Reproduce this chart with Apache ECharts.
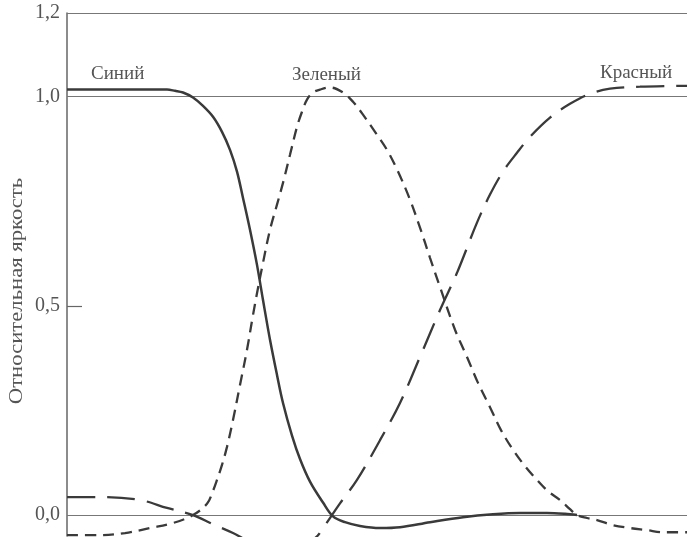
<!DOCTYPE html>
<html>
<head>
<meta charset="utf-8">
<script src="https://cdn.jsdelivr.net/npm/echarts@6/dist/echarts.min.js"></script>
<style>
html,body{margin:0;padding:0;background:#fff;}
#chart{width:687px;height:537px;}
</style>
</head>
<body>
<div id="chart"></div>
<script>
// x: arbitrary horizontal units (the source figure shows no x labels)
const blueX = [0,83,100,108,116,126,136,146,155,163,170,176,183,190,196,203,210,216,225,233,243,256,266,278,293,313,333,363,396,426,453,480,498,510];
const blueY = [1.017,1.017,1.017,1.014,1.010,0.998,0.978,0.952,0.916,0.873,0.821,0.758,0.682,0.598,0.514,0.419,0.335,0.268,0.190,0.134,0.080,0.030,-0.003,-0.017,-0.026,-0.031,-0.029,-0.017,-0.005,0.002,0.005,0.005,0.003,0.0];

const greenX = [0,33,58,83,106,126,140,146,150,155,160,166,173,180,186,190,196,203,210,216,223,230,235,240,246,253,263,276,286,296,308,320,331,343,353,363,373,388,400,411,423,434,446,458,470,481,493,503,510,520,530,546,563,580,596,620];
const greenY = [-0.048,-0.048,-0.043,-0.031,-0.019,0.0,0.027,0.058,0.084,0.120,0.163,0.227,0.311,0.395,0.478,0.530,0.603,0.682,0.742,0.794,0.861,0.928,0.964,0.993,1.010,1.017,1.022,1.010,0.988,0.957,0.916,0.873,0.821,0.754,0.687,0.615,0.545,0.443,0.378,0.316,0.258,0.203,0.156,0.117,0.084,0.057,0.036,0.014,0.0,-0.007,-0.012,-0.024,-0.031,-0.036,-0.041,-0.041];

const redX = [0,33,73,100,126,146,166,193,223,248,256,265,273,290,313,333,353,373,390,410,423,436,450,463,483,503,523,543,573,620];
const redY = [0.043,0.043,0.036,0.017,0.0,-0.022,-0.043,-0.075,-0.085,-0.055,-0.031,0.0,0.028,0.084,0.179,0.268,0.378,0.490,0.579,0.699,0.766,0.821,0.866,0.904,0.950,0.983,1.007,1.019,1.024,1.026];

const seriesNames = ['Синий','Зеленый','Красный'];
const tickValues = [0, 0.5, 1.0, 1.2];
const tickLabels = ['0,0','0,5','1,0','1,2'];
const refLines = [0, 1.0, 1.2];
const yTitle = 'Относительная яркость';

const pairs = (xs, ys) => xs.map((x, i) => [x, ys[i]]);
const ink = '#3a3a3a';
const textCol = '#555';
const serif = '"Liberation Serif", "DejaVu Serif", serif';

const chart = echarts.init(document.getElementById('chart'));
chart.setOption({
  animation: false,
  backgroundColor: '#fff',
  grid: { left: 67, right: 0, top: 13, bottom: 1, containLabel: false },
  xAxis: { type: 'value', min: 0, max: 620, show: false },
  yAxis: {
    type: 'value', min: -0.05, max: 1.2, interval: 0.05,
    axisLine: { show: true, lineStyle: { color: '#666', width: 1.5 } },
    axisTick: { show: true, inside: true, length: 15, customValues: [0.5], lineStyle: { color: '#666', width: 1.2 } },
    splitLine: { show: false },
    axisLabel: {
      customValues: tickValues,
      margin: 7,
      fontFamily: serif, fontSize: 20, color: textCol,
      formatter: function (v) {
        for (let i = 0; i < tickValues.length; i++) {
          if (Math.abs(v - tickValues[i]) < 1e-6) return tickLabels[i];
        }
        return '';
      }
    }
  },
  series: [
    {
      name: seriesNames[0], type: 'line', data: pairs(blueX, blueY),
      smooth: 0.35, showSymbol: false, symbol: 'none',
      lineStyle: { color: ink, width: 2.5, type: 'solid' },
      z: 5,
      markLine: {
        silent: true, symbol: 'none', label: { show: false },
        lineStyle: { color: '#777', width: 1.2, type: 'solid' },
        data: refLines.map(v => ({ yAxis: v }))
      }
    },
    {
      name: seriesNames[1], type: 'line', data: pairs(greenX, greenY),
      smooth: 0.35, showSymbol: false, symbol: 'none',
      lineStyle: { color: ink, width: 2.3, type: [11, 7] },
      z: 5
    },
    {
      name: seriesNames[2], type: 'line', data: pairs(redX, redY),
      smooth: 0.35, showSymbol: false, symbol: 'none',
      lineStyle: { color: ink, width: 2.3, type: [28, 12] },
      z: 5
    }
  ],
  graphic: [
    { type: 'text', x: 17, y: 291, rotation: Math.PI / 2, scaleX: 1.26,
      style: { text: yTitle, font: '18px ' + serif, fill: textCol, align: 'center', verticalAlign: 'middle' } },
    { type: 'text', x: 91, y: 74, style: { text: seriesNames[0], font: '19px ' + serif, fill: textCol, verticalAlign: 'middle' } },
    { type: 'text', x: 292, y: 75, style: { text: seriesNames[1], font: '19px ' + serif, fill: textCol, verticalAlign: 'middle' } },
    { type: 'text', x: 600, y: 73, style: { text: seriesNames[2], font: '19px ' + serif, fill: textCol, verticalAlign: 'middle' } }
  ]
});
</script>
</body>
</html>
